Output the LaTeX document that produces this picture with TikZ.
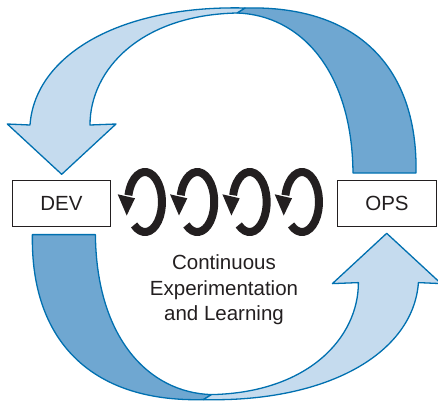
\documentclass[tikz,border=0pt]{standalone}
\usepackage{fontspec}
\setmainfont{Liberation Sans}
\definecolor{ribline}{RGB}{0,112,176}
\definecolor{riblight}{RGB}{197,219,238}
\definecolor{ribdark}{RGB}{111,167,209}
\definecolor{ink}{RGB}{35,31,32}
\tikzset{
  ribbonlight/.style={fill=riblight,draw=ribline,line width=1.3pt,line join=round},
  ribbondark/.style={fill=ribdark,draw=ribline,line width=1.3pt,line join=round},
  stagebox/.style={draw=ink,line width=0.9pt,fill=white,minimum height=46pt,inner sep=0pt,
    font=\fontsize{20.5}{24}\selectfont,text=ink},
  loopline/.style={draw=ink,line width=8pt,line cap=butt},
  looptip/.style={fill=ink}
}
\begin{document}
\begin{tikzpicture}[x=1pt,y=-1pt]
\useasboundingbox (0,0) rectangle (438,402);
% top ribbon arrow (OPS -> DEV)
\begin{scope}
\draw[ribbondark] (245,8) .. controls (360,5) and (418,70) .. (416,173)
  -- (353,173) .. controls (352,70) and (300,15) .. (237,13) -- cycle;
\draw[ribbonlight] (30,125) .. controls (35,55) and (120,5) .. (245,8)
  -- (237,13) .. controls (140,15) and (90,70) .. (90,125)
  -- (116,124) -- (61.7,174.3) -- (7.3,124) -- cycle;
\end{scope}
% bottom ribbon arrow (DEV -> OPS)
\begin{scope}[rotate around={180:(224.2,203.8)}]
\draw[ribbondark] (245,8) .. controls (360,5) and (418,70) .. (416,173)
  -- (353,173) .. controls (352,70) and (300,15) .. (237,13) -- cycle;
\draw[ribbonlight] (30,125) .. controls (35,55) and (120,5) .. (245,8)
  -- (237,13) .. controls (140,15) and (90,70) .. (90,125)
  -- (116,124) -- (61.7,174.3) -- (7.3,124) -- cycle;
\end{scope}
% boxes
\node[stagebox,minimum width=97.6pt] (dev) at (61.5,203.7) {DEV};
\node[stagebox,minimum width=99pt] (ops) at (387,203.7) {OPS};
% circular arrows
\foreach \cx in {145,197.3,249.7,302}{
  \begin{scope}[shift={(\cx,202)}]
    \draw[loopline] (130:17 and 30) arc[start angle=130,end angle=-167,x radius=17,y radius=30];
    \fill[looptip] (-27.3,-7.7) -- (-10,-3.7) -- (-18.3,13.5) -- cycle;
  \end{scope}
}
% caption
\node[align=center,inner sep=0pt,text=ink,font=\fontsize{20.5}{25.5}\selectfont] (cap) at (224,290)
  {Continuous\\Experimentation\\and Learning};
\end{tikzpicture}
\end{document}
